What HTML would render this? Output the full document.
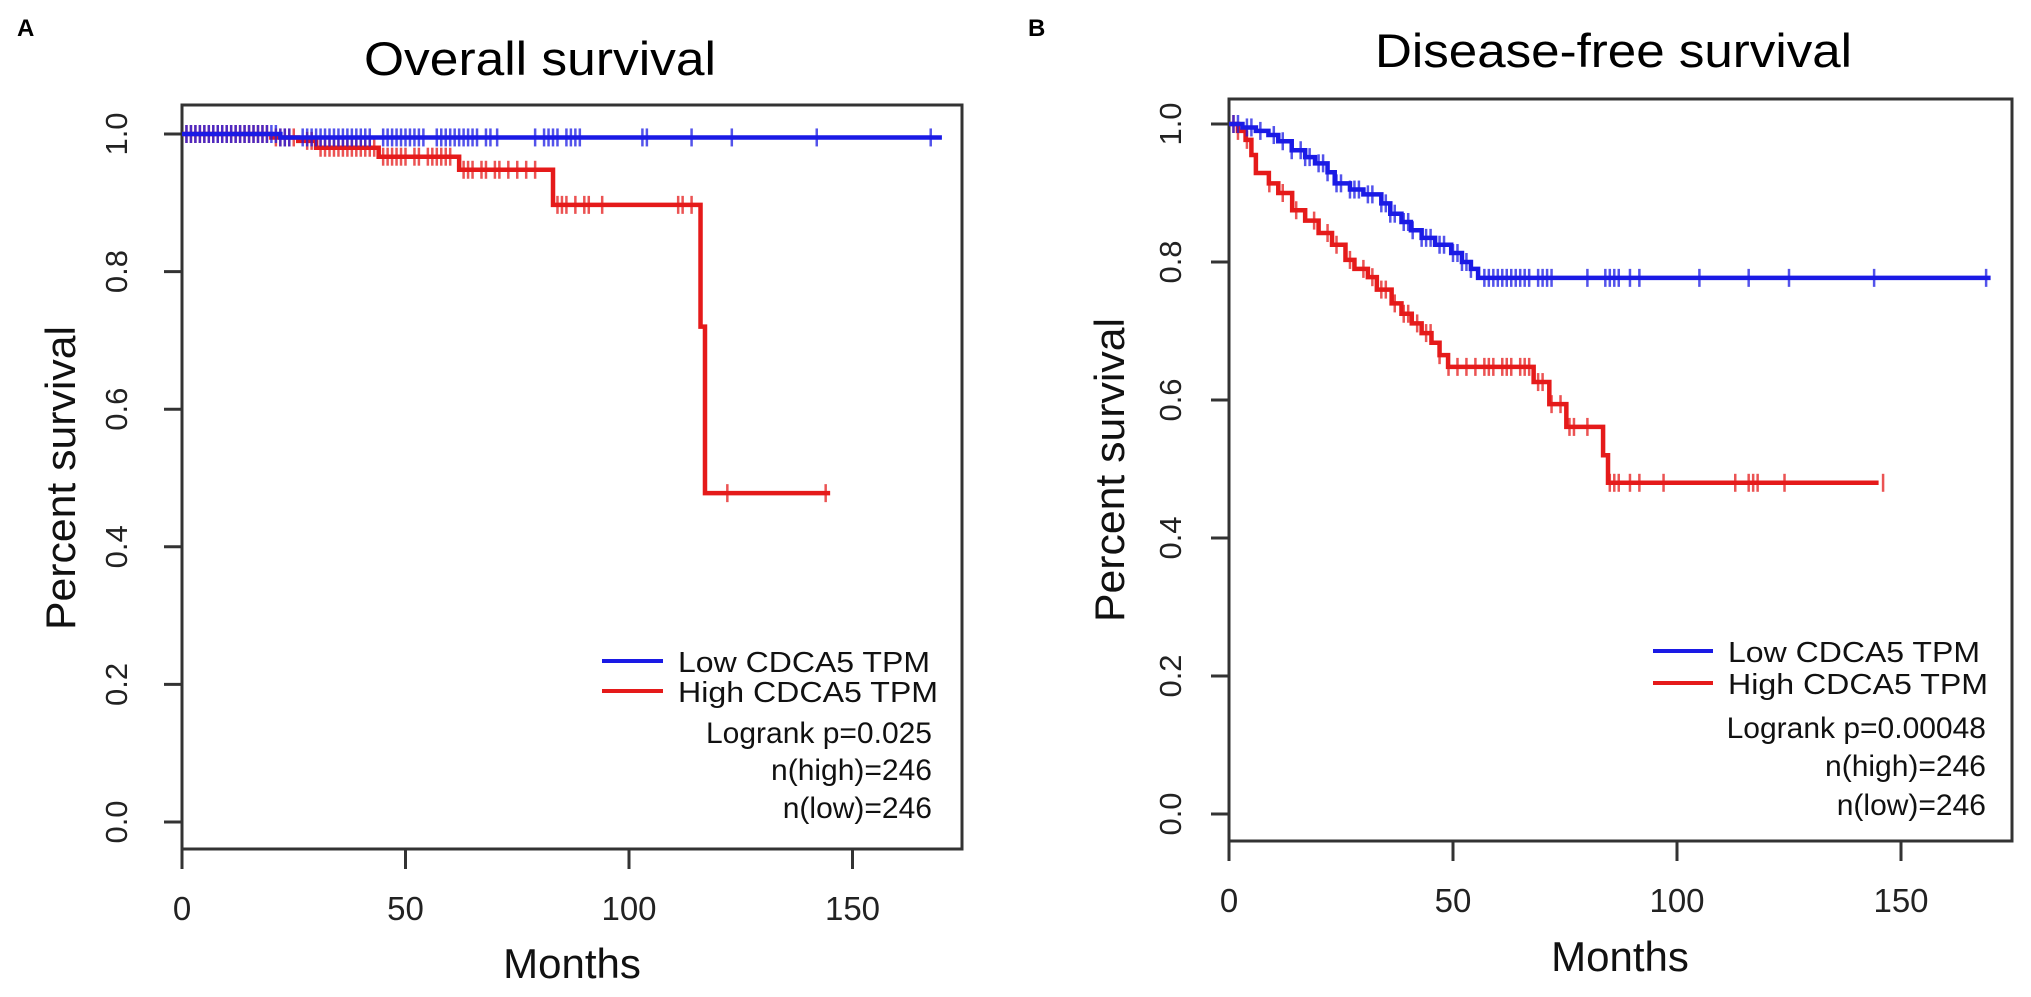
<!DOCTYPE html>
<html><head><meta charset="utf-8"><title>Kaplan-Meier survival curves by CDCA5 expression</title>
<style>
html,body{margin:0;padding:0;background:#fff;}
svg{display:block;font-family:"Liberation Sans",Arial,sans-serif;}
</style></head>
<body>
<svg id="fig" width="2031" height="997" viewBox="0 0 2031 997" xmlns="http://www.w3.org/2000/svg"></svg>
<script>
// ---------- Panel A data: Overall survival ----------
const osLowSteps = [[0,1.0],[22,0.995]];
const osLowEnd = 170;
const osLowCensor = [1,2,3,4,5,6,7,8,9,10,11,12,13,14,15,16,17,18,19,20,21,22,23,24,27,28,29,30,31,32,33,34,35,36,37,38,39,40,41,42,45,46,47,48,49,50,51,52,53,54,57,58,59,60,61,62,63,64,65,66,68,69,70.5,79,81,82,83,84,86,87,88,89,103,104,114,123,142,167.5];
const osHighSteps = [[0,1.0],[20,0.995],[26,0.99],[30,0.98],[44,0.967],[62,0.948],[83,0.897],[116,0.72],[117,0.478]];
const osHighEnd = 145;
const osHighCensor = [1,2,3,4,5,6,7,8,9,10,11,12,13,14,15,16,17,18,19,21,22,23,24,25,28,29,31,32,33,34,35,36,37,38,39,40,41,42,43,45,46,47,48,49,50,52,53,55,56,57,58,59,60,63,64,65,67,68,70,71,73,75,77,79,84,85,86,88,90,91,94,111,112,114,122,144];
// ---------- Panel B data: Disease-free survival ----------
const dfsLowSteps = [[0,1.0],[3,0.995],[6,0.99],[8.8,0.984],[11,0.975],[14,0.962],[17,0.952],[19.2,0.943],[22,0.93],[23.6,0.914],[27,0.905],[30,0.898],[34,0.885],[36,0.87],[38.5,0.858],[40.6,0.846],[43,0.835],[46,0.825],[49.6,0.813],[52,0.8],[54,0.79],[55.6,0.777]];
const dfsLowEnd = 170;
const dfsLowCensor = [1,2,4,5,7,10,12,14,16,17,18,20,21,22,24,25,27,28,29,31,32,34,35,36,37,39,40,41,43,44,45,47,48,50,51,52,53,54,57,58,59,60,61,62,63,64,65,66,67,69,70,71,72,80,84,85,86,87,89.5,91.6,105,116,125,144,169];
const dfsHighSteps = [[0,1.0],[2,0.99],[3.7,0.977],[5,0.955],[6,0.929],[8.9,0.914],[11,0.9],[14.1,0.875],[17,0.86],[20,0.842],[23,0.825],[26,0.803],[28,0.79],[31,0.778],[33,0.76],[36.3,0.74],[38.5,0.725],[40.8,0.711],[43,0.697],[45.2,0.683],[47,0.665],[48.9,0.648],[68,0.626],[71.5,0.594],[75.3,0.561],[83.5,0.52],[84.6,0.48]];
const dfsHighEnd = 145;
const dfsHighCensor = [1,2,4,9,12,15,19,22,24,27,30,32,34,35,37,39,40,42,44,45,47,49,51,53,55,57,58,59,61,62,63,65,66,67,69,70,72,74,76,77,80,85,86,87,89.5,91.6,97,113,116,117,118,124,146];
// ---------- axis tick values ----------
const xTicks = [0,50,100,150];
const yTicks = [0.0,0.2,0.4,0.6,0.8,1.0];
const yTickLabels = ["0.0","0.2","0.4","0.6","0.8","1.0"];

const NS = "http://www.w3.org/2000/svg";
const svg = document.getElementById('fig');
function mk(tag, attrs, parent){
  const e = document.createElementNS(NS, tag);
  for (const k in attrs) e.setAttribute(k, attrs[k]);
  (parent||svg).appendChild(e);
  return e;
}
function survAt(steps, t){
  let s = steps[0][1];
  for (const st of steps){ if (st[0] <= t) s = st[1]; }
  return s;
}

function panel(cfg){
  const g = mk('g', {});
  
  
  const X = m => cfg.x0 + m * cfg.xs;
  const Y = v => cfg.y0 - v * cfg.ys;

  const L = mk('text', {x: cfg.letterX, y: 36, 'font-size': 24, 'font-weight': 'bold', fill: '#000'}, g);
  L.textContent = cfg.letter;
  
  

  const T = mk('text', {x: cfg.titleX, y: cfg.titleY, 'font-size': 47, fill: '#000', textLength: cfg.titleLen, lengthAdjust: 'spacingAndGlyphs'}, g);
  T.textContent = cfg.title;
  
  

  const box = mk('rect', {x: cfg.left, y: cfg.top, width: cfg.right - cfg.left, height: cfg.bottom - cfg.top, fill: 'none', stroke: '#333', 'stroke-width': 3}, g);
  
  

  xTicks.forEach(t => {
    const tl = mk('line', {x1: X(t), x2: X(t), y1: cfg.bottom, y2: cfg.bottom + 20, stroke: '#333', 'stroke-width': 3}, g);
    
    
    const tx = mk('text', {x: X(t), y: cfg.xLabY, 'font-size': 33, 'text-anchor': 'middle', fill: '#222'}, g);
    tx.textContent = String(t);
    
    
  });
  yTicks.forEach((v, i) => {
    const tl = mk('line', {x1: cfg.left - 18, x2: cfg.left, y1: Y(v), y2: Y(v), stroke: '#333', 'stroke-width': 3}, g);
    
    
    const tx = mk('text', {x: 0, y: 0, 'font-size': 31, 'text-anchor': 'middle', fill: '#222', transform: `translate(${cfg.yLabX},${Y(v)}) rotate(-90)`}, g);
    tx.textContent = yTickLabels[i];
    
    
  });
  const xt = mk('text', {x: cfg.monthsX, y: cfg.monthsY, 'font-size': 42, 'text-anchor': 'middle', fill: '#111'}, g);
  xt.textContent = 'Months';
  
  
  const yt = mk('text', {x: 0, y: 0, 'font-size': 42, 'text-anchor': 'middle', fill: '#111', textLength: 304, lengthAdjust: 'spacingAndGlyphs', transform: `translate(${cfg.ytX},${cfg.ytY}) rotate(-90)`}, g);
  yt.textContent = 'Percent survival';
  
  

  function curve(steps, end, censor, color, nm){
    let d = `M${X(steps[0][0])},${Y(steps[0][1])}`;
    for (let i = 1; i < steps.length; i++){
      d += ` H${X(steps[i][0])} V${Y(steps[i][1])}`;
    }
    d += ` H${X(end)}`;
    const p = mk('path', {d: d, fill: 'none', stroke: color, 'stroke-width': 4.5}, g);
    
    
    censor.forEach(t => {
      const y = Y(survAt(steps, t));
      const c = mk('line', {x1: X(t), x2: X(t), y1: y - 9, y2: y + 9, stroke: color, 'stroke-width': 2.5, opacity: 0.75}, g);
      
      
    });
  }
  curve(cfg.high, cfg.highEnd, cfg.highC, '#e51a1a', 'high-cdca5');
  curve(cfg.low, cfg.lowEnd, cfg.lowC, '#1a1ae5', 'low-cdca5');

  const lg = mk('g', {}, g);
  
  
  const ent = [['Low CDCA5 TPM', '#1a1ae5', cfg.legY1, cfg.lowLen], ['High CDCA5 TPM', '#e51a1a', cfg.legY2, cfg.highLen]];
  ent.forEach(e => {
    const ln = mk('line', {x1: cfg.legLineX1, x2: cfg.legLineX2, y1: e[2] - 11, y2: e[2] - 11, stroke: e[1], 'stroke-width': 4}, lg);
    
    
    const tx = mk('text', {x: cfg.legTextX, y: e[2], 'font-size': 29, fill: '#111', textLength: e[3], lengthAdjust: 'spacingAndGlyphs'}, lg);
    tx.textContent = e[0];
    
    
  });
  cfg.stats.forEach(s => {
    const tx = mk('text', {x: cfg.statRight, y: s[1], 'font-size': 30, 'text-anchor': 'end', fill: '#111'}, lg);
    tx.textContent = s[0];
    
    
  });
}

panel({
  name: 'panel-a-overall-survival', letter: 'A', letterX: 17,
  title: 'Overall survival', titleX: 364, titleY: 75, titleLen: 352,
  left: 182, right: 962, top: 105, bottom: 849,
  x0: 182, xs: 4.47, y0: 822, ys: 688,
  xLabY: 920, yLabX: 127, monthsX: 572, monthsY: 978, ytX: 75, ytY: 478,
  low: osLowSteps, lowEnd: osLowEnd, lowC: osLowCensor,
  high: osHighSteps, highEnd: osHighEnd, highC: osHighCensor,
  legLineX1: 602, legLineX2: 663, legTextX: 678, legY1: 672, legY2: 702, lowLen: 252, highLen: 260,
  statRight: 932, stats: [['Logrank p=0.025', 743], ['n(high)=246', 780], ['n(low)=246', 818]]
});
panel({
  name: 'panel-b-disease-free-survival', letter: 'B', letterX: 1028,
  title: 'Disease-free survival', titleX: 1375, titleY: 67, titleLen: 477,
  left: 1229, right: 2012, top: 99, bottom: 841,
  x0: 1229, xs: 4.48, y0: 814, ys: 690,
  xLabY: 912, yLabX: 1181, monthsX: 1620, monthsY: 971, ytX: 1124, ytY: 470,
  low: dfsLowSteps, lowEnd: dfsLowEnd, lowC: dfsLowCensor,
  high: dfsHighSteps, highEnd: dfsHighEnd, highC: dfsHighCensor,
  legLineX1: 1653, legLineX2: 1713, legTextX: 1728, legY1: 662, legY2: 694, lowLen: 252, highLen: 260,
  statRight: 1986, stats: [['Logrank p=0.00048', 738], ['n(high)=246', 776], ['n(low)=246', 815]]
});
</script>
</body></html>
